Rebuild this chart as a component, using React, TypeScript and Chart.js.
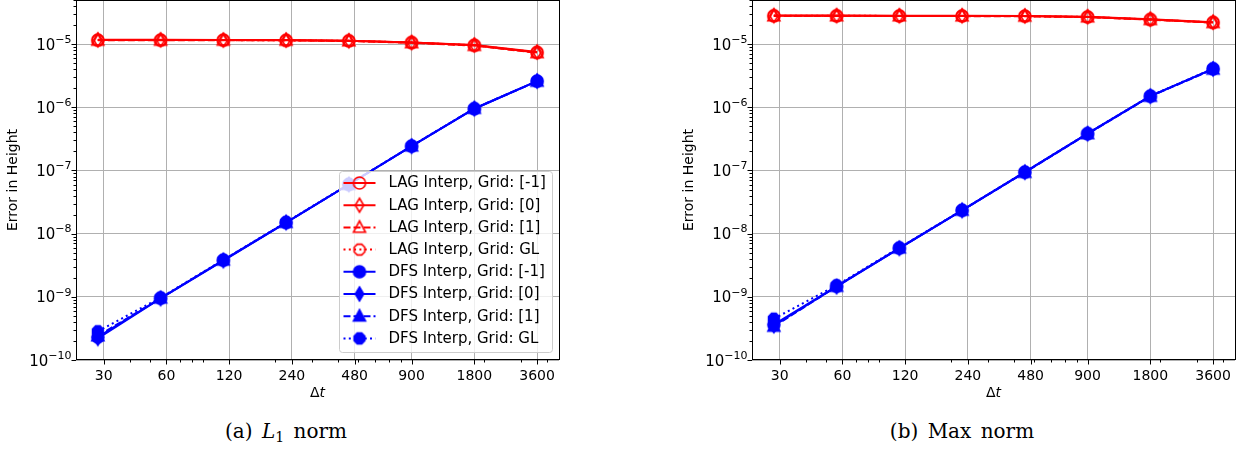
import React, { useEffect, useRef } from 'react';
import { Chart, registerables } from 'chart.js';

Chart.register(...registerables);

// ---------------- data ----------------
const dtValues = [28.125, 56.25, 112.5, 225, 450, 900, 1800, 3600];
const xTickValues = [30, 60, 120, 240, 480, 900, 1800, 3600];
const xTickLabels = ['30', '60', '120', '240', '480', '900', '1800', '3600'];
const yTickValues = [1e-10, 1e-9, 1e-8, 1e-7, 1e-6, 1e-5];
const yTickBase = ['10', '10', '10', '10', '10', '10'];
const yTickExponents = ['−10', '−9', '−8', '−7', '−6', '−5'];
const xMin = 22.1;
const xMax = 4587;
const yMin = 1e-10;
const yMax = 5e-5;

const seriesNames = [
  'LAG Interp, Grid: [-1]',
  'LAG Interp, Grid: [0]',
  'LAG Interp, Grid: [1]',
  'LAG Interp, Grid: GL',
  'DFS Interp, Grid: [-1]',
  'DFS Interp, Grid: [0]',
  'DFS Interp, Grid: [1]',
  'DFS Interp, Grid: GL',
];

// (a) L1 norm
const l1LagM1 = [1.16e-5, 1.16e-5, 1.16e-5, 1.15e-5, 1.13e-5, 1.06e-5, 9.6e-6, 7.4e-6];
const l1Lag0 = [1.17e-5, 1.17e-5, 1.16e-5, 1.16e-5, 1.13e-5, 1.06e-5, 9.7e-6, 7.5e-6];
const l1Lag1 = [1.15e-5, 1.15e-5, 1.15e-5, 1.15e-5, 1.12e-5, 1.05e-5, 9.5e-6, 7.3e-6];
const l1LagGL = [1.16e-5, 1.16e-5, 1.16e-5, 1.15e-5, 1.13e-5, 1.06e-5, 9.6e-6, 7.4e-6];
const l1DfsM1 = [2.3e-10, 9.5e-10, 3.8e-9, 1.5e-8, 6.0e-8, 2.43e-7, 9.5e-7, 2.6e-6];
const l1Dfs0 = [2.2e-10, 9.4e-10, 3.75e-9, 1.5e-8, 6.0e-8, 2.42e-7, 9.5e-7, 2.6e-6];
const l1Dfs1 = [2.4e-10, 9.5e-10, 3.8e-9, 1.5e-8, 6.0e-8, 2.43e-7, 9.6e-7, 2.58e-6];
const l1DfsGL = [2.85e-10, 9.7e-10, 3.85e-9, 1.52e-8, 6.1e-8, 2.45e-7, 9.6e-7, 2.6e-6];

// (b) Max norm
const maxLagM1 = [2.81e-5, 2.81e-5, 2.8e-5, 2.8e-5, 2.78e-5, 2.7e-5, 2.46e-5, 2.21e-5];
const maxLag0 = [2.83e-5, 2.83e-5, 2.82e-5, 2.82e-5, 2.8e-5, 2.72e-5, 2.48e-5, 2.23e-5];
const maxLag1 = [2.79e-5, 2.79e-5, 2.79e-5, 2.78e-5, 2.76e-5, 2.68e-5, 2.44e-5, 2.19e-5];
const maxLagGL = [2.81e-5, 2.81e-5, 2.8e-5, 2.8e-5, 2.78e-5, 2.7e-5, 2.46e-5, 2.21e-5];
const maxDfsM1 = [3.65e-10, 1.47e-9, 5.9e-9, 2.34e-8, 9.4e-8, 3.83e-7, 1.5e-6, 4.07e-6];
const maxDfs0 = [3.5e-10, 1.45e-9, 5.85e-9, 2.33e-8, 9.4e-8, 3.82e-7, 1.5e-6, 4.05e-6];
const maxDfs1 = [3.4e-10, 1.46e-9, 5.9e-9, 2.34e-8, 9.3e-8, 3.8e-7, 1.49e-6, 4.0e-6];
const maxDfsGL = [4.5e-10, 1.52e-9, 6.0e-9, 2.36e-8, 9.5e-8, 3.85e-7, 1.52e-6, 4.1e-6];

const l1Series = [l1LagM1, l1Lag0, l1Lag1, l1LagGL, l1DfsM1, l1Dfs0, l1Dfs1, l1DfsGL];
const maxSeries = [maxLagM1, maxLag0, maxLag1, maxLagGL, maxDfsM1, maxDfs0, maxDfs1, maxDfsGL];

// ---------------- styles ----------------
const seriesColors = ['#ff0000', '#ff0000', '#ff0000', '#ff0000', '#0000ff', '#0000ff', '#0000ff', '#0000ff'];
const seriesShapes = ['circle', 'thinDiamond', 'triangle', 'octagon', 'circle', 'thinDiamond', 'triangle', 'octagon'];
const seriesDashes: number[][] = [[], [], [7, 3], [2, 3.3], [], [], [7, 3], [2, 3.3]];
const seriesFilled = [false, false, false, false, true, true, true, true];

const FONT = '"DejaVu Sans", sans-serif';

function makeMarker(shape: string, color: string, filled: boolean): HTMLCanvasElement {
  const size = 20;
  const c = document.createElement('canvas');
  c.width = size;
  c.height = size;
  const g = c.getContext('2d')!;
  const m = size / 2;
  g.beginPath();
  if (shape === 'circle') {
    g.arc(m, m, 6, 0, Math.PI * 2);
  } else if (shape === 'thinDiamond') {
    g.moveTo(m, m - 7);
    g.lineTo(m + 4.2, m);
    g.lineTo(m, m + 7);
    g.lineTo(m - 4.2, m);
    g.closePath();
  } else if (shape === 'triangle') {
    g.moveTo(m, m - 6.5);
    g.lineTo(m + 6, m + 4.8);
    g.lineTo(m - 6, m + 4.8);
    g.closePath();
  } else {
    for (let k = 0; k < 8; k++) {
      const a = ((22.5 + 45 * k) * Math.PI) / 180;
      const px = m + 5.8 * Math.cos(a);
      const py = m + 5.8 * Math.sin(a);
      if (k === 0) g.moveTo(px, py);
      else g.lineTo(px, py);
    }
    g.closePath();
  }
  if (filled) {
    g.fillStyle = color;
    g.fill();
  }
  g.lineWidth = 1.6;
  g.strokeStyle = color;
  g.stroke();
  return c;
}

const decorPlugin = {
  id: 'mplDecor',
  afterDraw(chart: any, _args: any, opts: any) {
    const { ctx, chartArea: ca, scales } = chart;
    const xs = scales.x;
    const ys = scales.y;
    ctx.save();
    ctx.strokeStyle = '#000';
    ctx.lineWidth = 1;
    ctx.setLineDash([]);
    ctx.beginPath();
    // x minor ticks
    for (let e = 1; e <= 3; e++) {
      for (let mm = 2; mm <= 9; mm++) {
        const v = mm * Math.pow(10, e);
        if (v < xs.min || v > xs.max) continue;
        const px = Math.round(xs.getPixelForValue(v)) + 0.5;
        ctx.moveTo(px, ca.bottom);
        ctx.lineTo(px, ca.bottom + 2.5);
      }
    }
    xTickValues.forEach((v) => {
      const px = Math.round(xs.getPixelForValue(v)) + 0.5;
      ctx.moveTo(px, ca.bottom);
      ctx.lineTo(px, ca.bottom + 4.5);
    });
    // y minor ticks
    for (let e = -10; e <= -5; e++) {
      for (let mm = 2; mm <= 9; mm++) {
        const v = mm * Math.pow(10, e);
        if (v < ys.min || v > ys.max) continue;
        const py = Math.round(ys.getPixelForValue(v)) + 0.5;
        ctx.moveTo(ca.left, py);
        ctx.lineTo(ca.left - 2.5, py);
      }
    }
    yTickValues.forEach((v) => {
      const py = Math.round(ys.getPixelForValue(v)) + 0.5;
      ctx.moveTo(ca.left, py);
      ctx.lineTo(ca.left - 4.5, py);
    });
    ctx.stroke();

    // spines
    ctx.strokeRect(Math.round(ca.left) + 0.5, Math.round(ca.top) + 0.5, Math.round(ca.right - ca.left), Math.round(ca.bottom - ca.top) - 1);

    // y tick labels: 10 with superscript exponent
    ctx.fillStyle = '#000';
    ctx.textBaseline = 'alphabetic';
    ctx.textAlign = 'left';
    yTickValues.forEach((v, i) => {
      const py = ys.getPixelForValue(v);
      ctx.font = `11px ${FONT}`;
      const we = ctx.measureText(yTickExponents[i]).width;
      ctx.font = `15px ${FONT}`;
      const wb = ctx.measureText(yTickBase[i]).width;
      const right = ca.left - 4.5;
      const sx = right - we - wb;
      ctx.fillText(yTickBase[i], sx, py + 5.6);
      ctx.font = `11px ${FONT}`;
      ctx.fillText(yTickExponents[i], sx + wb, py - 1.3);
    });

    // x axis title: Δt with italic t
    const cx = (ca.left + ca.right) / 2;
    const cy = ca.bottom + 33;
    ctx.textBaseline = 'middle';
    ctx.font = `14px ${FONT}`;
    const w1 = ctx.measureText('Δ').width;
    ctx.font = `italic 14px ${FONT}`;
    const w2 = ctx.measureText('t').width;
    const sx = cx - (w1 + w2) / 2;
    ctx.font = `14px ${FONT}`;
    ctx.fillText('Δ', sx, cy);
    ctx.font = `italic 14px ${FONT}`;
    ctx.fillText('t', sx + w1, cy);

    // legend
    if (opts && opts.legend) {
      const bw = 213;
      const bh = 181;
      const bx = Math.round(ca.right - 7 - bw) + 0.5;
      const by = Math.round(ca.bottom - 8 - bh) + 0.5;
      const r = 3;
      ctx.beginPath();
      ctx.moveTo(bx + r, by);
      ctx.lineTo(bx + bw - r, by);
      ctx.arcTo(bx + bw, by, bx + bw, by + r, r);
      ctx.lineTo(bx + bw, by + bh - r);
      ctx.arcTo(bx + bw, by + bh, bx + bw - r, by + bh, r);
      ctx.lineTo(bx + r, by + bh);
      ctx.arcTo(bx, by + bh, bx, by + bh - r, r);
      ctx.lineTo(bx, by + r);
      ctx.arcTo(bx, by, bx + r, by, r);
      ctx.closePath();
      ctx.fillStyle = 'rgba(255,255,255,0.8)';
      ctx.fill();
      ctx.strokeStyle = '#cccccc';
      ctx.lineWidth = 1;
      ctx.stroke();

      const markers: HTMLCanvasElement[] = opts.markers;
      ctx.font = `15px ${FONT}`;
      ctx.textBaseline = 'middle';
      ctx.textAlign = 'left';
      for (let i = 0; i < seriesNames.length; i++) {
        const y = by + 11.5 + i * 22.2;
        ctx.strokeStyle = seriesColors[i];
        ctx.lineWidth = 2;
        ctx.setLineDash(seriesDashes[i]);
        ctx.beginPath();
        ctx.moveTo(bx + 4, y);
        ctx.lineTo(bx + 36, y);
        ctx.stroke();
        ctx.setLineDash([]);
        const mk = markers[i];
        ctx.drawImage(mk, bx + 20 - mk.width / 2, y - mk.height / 2);
        ctx.fillStyle = '#000';
        ctx.fillText(seriesNames[i], bx + 49, y + 0.5);
      }
    }
    ctx.restore();
  },
};

function NormChart({ series, showLegend }: { series: number[][]; showLegend: boolean }) {
  const ref = useRef<HTMLCanvasElement>(null);
  useEffect(() => {
    const markers = seriesShapes.map((s, i) => makeMarker(s, seriesColors[i], seriesFilled[i]));
    const datasets = series.map((vals, i) => ({
      label: seriesNames[i],
      data: dtValues.map((x, j) => ({ x, y: vals[j] })),
      borderColor: seriesColors[i],
      backgroundColor: seriesColors[i],
      borderWidth: 2,
      borderDash: seriesDashes[i],
      pointStyle: markers[i],
      pointRadius: 6,
      pointHoverRadius: 6,
      tension: 0,
      fill: false,
      order: -i,
    }));
    const chart = new Chart(ref.current!, {
      type: 'line',
      data: { datasets },
      plugins: [decorPlugin],
      options: {
        animation: false,
        responsive: false,
        devicePixelRatio: 1,
        events: [],
        layout: { autoPadding: false, padding: { top: 0, right: 13, bottom: 0, left: 0 } },
        plugins: {
          legend: { display: false },
          tooltip: { enabled: false },
          title: { display: false },
          mplDecor: { legend: showLegend, markers },
        } as any,
        scales: {
          x: {
            type: 'logarithmic',
            min: xMin,
            max: xMax,
            afterBuildTicks: (s: any) => {
              s.ticks = xTickValues.map((v) => ({ value: v }));
            },
            afterFit: (s: any) => {
              s.height = 40;
              s.paddingLeft = 0;
              s.paddingRight = 0;
            },
            ticks: {
              autoSkip: false,
              maxRotation: 0,
              padding: 8,
              color: '#000',
              font: { family: FONT, size: 14 },
              callback: (_v: any, i: number) => xTickLabels[i],
            },
            grid: { color: '#b0b0b0', lineWidth: 1, drawTicks: false },
            border: { display: false },
          },
          y: {
            type: 'logarithmic',
            min: yMin,
            max: yMax,
            afterBuildTicks: (s: any) => {
              s.ticks = yTickValues.map((v) => ({ value: v }));
            },
            afterFit: (s: any) => {
              s.width = 76;
              s.paddingTop = 0;
              s.paddingBottom = 0;
            },
            ticks: { display: false },
            grid: { color: '#b0b0b0', lineWidth: 1, drawTicks: false },
            border: { display: false },
            title: {
              display: true,
              text: 'Error in Height',
              color: '#000',
              font: { family: FONT, size: 14 },
              padding: { top: 5, bottom: 0 },
            },
          },
        } as any,
      },
    } as any);
    return () => chart.destroy();
  }, []);
  return <canvas ref={ref} width={572} height={400} style={{ display: 'block', width: 572, height: 400 }} />;
}

const captionStyle: React.CSSProperties = {
  position: 'absolute',
  top: 419,
  width: 572,
  textAlign: 'center',
  fontFamily: '"DejaVu Serif", serif',
  fontSize: 20,
  lineHeight: '24px',
  color: '#000',
  wordSpacing: 3,
};

export default function App() {
  return (
    <div style={{ position: 'absolute', left: 0, top: 0, width: 1248, height: 450, background: '#fff', overflow: 'hidden' }}>
      <div style={{ position: 'absolute', left: 0, top: 0 }}>
        <NormChart series={l1Series} showLegend={true} />
      </div>
      <div style={{ position: 'absolute', left: 676, top: 0 }}>
        <NormChart series={maxSeries} showLegend={false} />
      </div>
      <div style={{ ...captionStyle, left: 0 }}>
        (a) <i>L</i>
        <sub style={{ fontSize: 14, verticalAlign: '-4px', lineHeight: 0 }}>1</sub> norm
      </div>
      <div style={{ ...captionStyle, left: 676 }}>(b) Max norm</div>
    </div>
  );
}
